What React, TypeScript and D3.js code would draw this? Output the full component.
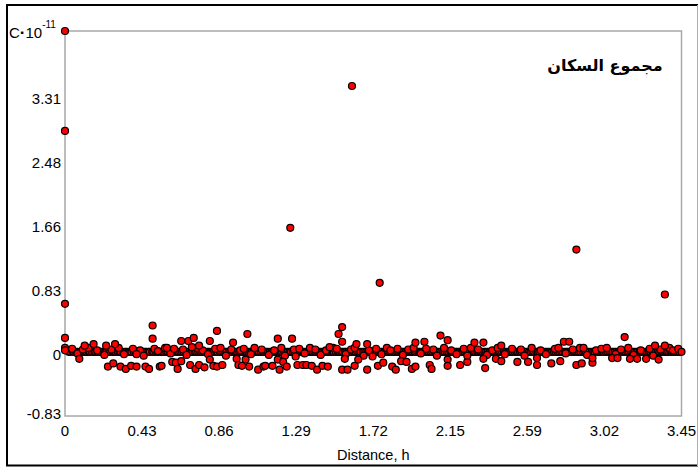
import React from "react";
import * as d3 from "d3";

const xTickValues = [0, 0.431, 0.862, 1.293, 1.724, 2.155, 2.586, 3.017, 3.448];
const xTickLabels = ["0", "0.43", "0.86", "1.29", "1.72", "2.15", "2.59", "3.02", "3.45"];
const yTickValues = [-0.828, 0, 0.828, 1.656, 2.484, 3.312];
const yTickLabels = ["-0.83", "0", "0.83", "1.66", "2.48", "3.31"];

// dense band of points lying on zero
const bandX = [0.02,0.03,0.045,0.05,0.062,0.07,0.085,0.09,0.102,0.115,0.12,0.133,0.14,0.152,0.165,0.17,0.182,0.195,0.2,0.214,0.225,0.232,0.245,0.252,0.266,0.275,0.283,0.296,0.305,0.312,0.324,0.335,0.343,0.356,0.364,0.372,0.385,0.396,0.403,0.415,0.426,0.434,0.447,0.455,0.466,0.474,0.488,0.495,0.507,0.516,0.523,0.536,0.545,0.553,0.566,0.574,0.585,0.596,0.604,0.613,0.627,0.634,0.645,0.655,0.664,0.676,0.683,0.695,0.706,0.713,0.726,0.734,0.745,0.756,0.763,0.775,0.784,0.796,0.803,0.815,0.826,0.834,0.846,0.853,0.866,0.874,0.885,0.896,0.903,0.916,0.925,0.934,0.946,0.955,0.963,0.975,0.986,0.994,1.006,1.014,1.025,1.036,1.044,1.055,1.064,1.076,1.084,1.095,1.106,1.113,1.125,1.134,1.146,1.155,1.163,1.176,1.184,1.195,1.205,1.214,1.226,1.233,1.245,1.256,1.264,1.275,1.284,1.296,1.305,1.313,1.326,1.334,1.345,1.354,1.366,1.374,1.385,1.395,1.404,1.415,1.424,1.436,1.445,1.453,1.466,1.474,1.485,1.496,1.503,1.515,1.526,1.534,1.545,1.554,1.566,1.573,1.585,1.596,1.604,1.615,1.624,1.635,1.645,1.653,1.666,1.674,1.685,1.695,1.704,1.716,1.724,1.735,1.744,1.756,1.765,1.773,1.786,1.794,1.805,1.815,1.824,1.835,1.844,1.856,1.864,1.875,1.885,1.893,1.906,1.914,1.925,1.936,1.944,1.955,1.964,1.976,1.984,1.995,2.005,2.014,2.026,2.034,2.045,2.054,2.066,2.074,2.085,2.094,2.105,2.116,2.124,2.135,2.144,2.156,2.165,2.173,2.186,2.194,2.205,2.215,2.224,2.235,2.244,2.256,2.264,2.275,2.285,2.294,2.306,2.314,2.325,2.334,2.346,2.355,2.364,2.375,2.384,2.396,2.405,2.413,2.426,2.434,2.445,2.455,2.464,2.476,2.484,2.495,2.504,2.516,2.525,2.534,2.545,2.554,2.566,2.574,2.585,2.596,2.604,2.615,2.624,2.636,2.645,2.653,2.665,2.674,2.686,2.694,2.705,2.716,2.724,2.735,2.744,2.755,2.764,2.776,2.784,2.795,2.806,2.814,2.825,2.834,2.846,2.855,2.864,2.875,2.884,2.896,2.905,2.914,2.925,2.934,2.946,2.955,2.963,2.976,2.984,2.995,3.005,3.014,3.026,3.034,3.045,3.055,3.064,3.075,3.084,3.096,3.104,3.115,3.126,3.134,3.145,3.154,3.165,3.174,3.184,3.196,3.204,3.215,3.224,3.236,3.245,3.254,3.265,3.274,3.285,3.296,3.304,3.315,3.324,3.335,3.344,3.356,3.365,3.374,3.386,3.394,3.405,3.414,3.425,3.436];

// points sitting just on / beside the band
const nearPoints: [number, number][] = [
  [0.0,0.05],[0.04,0.04],[0.07,-0.02],[0.1,0.03],[0.13,0.05],[0.18,0.02],[0.22,-0.04],[0.26,0.03],[0.3,0.05],[0.33,-0.03],
  [0.38,0.04],[0.42,0.02],[0.44,-0.05],[0.5,0.04],[0.52,0.01],[0.56,0.05],[0.59,-0.02],[0.61,0.04],[0.66,0.03],[0.68,-0.04],
  [0.74,0.05],[0.77,0.02],[0.8,-0.03],[0.84,0.04],[0.87,0.05],[0.9,-0.05],[0.93,0.03],[0.98,0.02],[1.0,0.04],[1.04,-0.03],
  [1.06,0.05],[1.1,0.03],[1.14,-0.04],[1.17,0.02],[1.21,0.05],[1.23,-0.05],[1.28,0.03],[1.31,0.04],[1.34,-0.02],[1.37,0.05],
  [1.4,0.03],[1.43,-0.04],[1.46,0.02],[1.5,0.05],[1.52,0.04],[1.57,-0.03],[1.6,0.03],[1.62,0.05],[1.67,-0.05],[1.7,0.02],
  [1.74,0.04],[1.77,-0.03],[1.8,0.05],[1.82,0.02],[1.86,0.04],[1.89,-0.04],[1.92,0.03],[1.95,0.05],[1.99,-0.02],[2.02,0.04],
  [2.06,0.03],[2.08,-0.05],[2.12,0.05],[2.16,0.02],[2.19,-0.03],[2.23,0.04],[2.27,0.05],[2.31,0.03],[2.36,-0.04],[2.39,0.02],
  [2.42,0.05],[2.46,-0.03],[2.5,0.04],[2.55,0.03],[2.57,-0.05],[2.61,0.05],[2.66,0.02],[2.69,-0.03],[2.74,0.04],[2.76,0.05],
  [2.8,-0.02],[2.84,0.03],[2.88,0.05],[2.92,-0.04],[2.97,0.02],[3.0,0.04],[3.03,0.05],[3.08,-0.03],[3.11,0.03],[3.15,0.05],
  [3.18,-0.04],[3.22,0.02],[3.27,0.04],[3.29,-0.05],[3.33,0.03],[3.38,0.05],[3.4,0.02],[3.43,0.04]
];

// points clearly off the band
const outlierPoints: [number, number][] = [
  [0,4.14],[0,2.85],[0,0.62],[0,0.18],[0,0.02],
  [0.08,-0.09],[0.11,0.08],[0.16,0.1],[0.23,0.08],[0.28,0.1],[0.24,-0.19],[0.27,-0.15],[0.31,-0.19],[0.34,-0.22],[0.37,-0.18],
  [0.4,-0.19],[0.4,-0.03],[0.45,-0.19],[0.47,-0.22],[0.49,0.17],[0.49,0.34],[0.53,-0.19],[0.54,-0.18],[0.57,0.05],[0.6,-0.13],
  [0.62,-0.14],[0.63,-0.22],[0.65,0.14],[0.65,-0.12],[0.69,0.14],[0.71,0.06],[0.72,0.18],[0.7,-0.17],[0.73,-0.22],[0.75,0.08],
  [0.75,-0.17],[0.78,-0.2],[0.81,0.14],[0.81,-0.1],[0.83,-0.18],[0.85,0.27],[0.85,-0.19],[0.88,-0.17],[0.94,0.12],[0.96,-0.09],
  [0.97,-0.17],[0.99,-0.18],[1.01,-0.1],[1.02,0.23],[1.03,-0.19],[1.08,-0.23],[1.11,-0.19],[1.12,-0.18],[1.16,-0.18],[1.19,-0.1],
  [1.19,0.17],[1.2,-0.23],[1.22,-0.13],[1.24,-0.19],[1.26,1.6],[1.27,0.17],[1.29,-0.06],[1.3,-0.17],[1.33,-0.17],[1.35,-0.17],
  [1.38,-0.18],[1.41,-0.23],[1.44,-0.18],[1.47,-0.19],[1.48,0.06],[1.53,0.23],[1.55,0.32],[1.55,0.13],[1.55,-0.23],[1.565,-0.09],
  [1.58,-0.23],[1.605,3.43],[1.62,-0.18],[1.63,0.1],[1.64,-0.1],[1.69,0.1],[1.69,-0.23],[1.72,-0.06],[1.75,-0.18],[1.76,0.89],
  [1.78,-0.14],[1.83,-0.19],[1.85,-0.23],[1.88,-0.12],[1.91,-0.13],[1.94,-0.22],[1.96,0.12],[1.96,-0.19],[2.01,0.13],[2.04,-0.17],
  [2.05,-0.22],[2.1,0.21],[2.14,0.15],[2.14,-0.1],[2.14,-0.18],[2.21,-0.17],[2.25,-0.13],[2.25,-0.05],[2.29,0.12],[2.34,0.12],
  [2.34,-0.09],[2.35,-0.21],[2.41,-0.09],[2.44,-0.12],[2.44,0.08],[2.53,-0.13],[2.59,-0.13],[2.64,-0.17],[2.64,-0.08],[2.72,-0.15],
  [2.77,-0.12],[2.79,0.13],[2.82,0.13],[2.86,1.32],[2.86,-0.17],[2.89,-0.15],[2.9,0.05],[2.95,-0.14],[2.95,-0.08],[3.06,-0.08],
  [3.09,-0.08],[3.13,0.19],[3.16,-0.09],[3.2,-0.09],[3.25,-0.09],[3.3,0.08],[3.32,-0.1],[3.355,0.74],[3.355,0.08],[3.448,0.0]
];

const titleText = "مجموع السكان";
const xAxisTitle = "Distance, h";

const W = 699;
const H = 467;
const left = 65;
const right = 681.5;
const top = 31;
const bottom = 416;
const FONT = "Arial, 'Liberation Sans', 'DejaVu Sans', sans-serif";

export default function App() {
  const x = d3.scaleLinear().domain([0, 3.448]).range([left, right]);
  const y = d3.scaleLinear().domain([-0.828, 4.14]).range([bottom, top]);

  const allPoints: [number, number][] = [
    ...bandX.map((v) => [v, 0] as [number, number]),
    ...nearPoints,
    ...outlierPoints,
  ];

  return (
    <svg
      width={W}
      height={H}
      style={{ position: "absolute", left: 0, top: 0, background: "#fff" }}
      fontFamily={FONT}
    >
      <rect x={0} y={0} width={W} height={H} fill="#fff" />
      {/* outer frame */}
      <line x1={7} y1={4} x2={7} y2={466} stroke="#000" strokeWidth={2} />
      <line x1={6} y1={5} x2={698} y2={5} stroke="#000" strokeWidth={2} />
      <line x1={6} y1={465.5} x2={698} y2={465.5} stroke="#000" strokeWidth={2} />
      <line x1={697.5} y1={5} x2={697.5} y2={466} stroke="#b0b0b0" strokeWidth={1} />

      {/* plot frame */}
      <rect
        x={left}
        y={top}
        width={right - left}
        height={bottom - top}
        fill="none"
        stroke="#a8a8a8"
        strokeWidth={1.5}
      />

      {/* y tick labels */}
      {yTickValues.map((v, i) => (
        <text
          key={"yt" + i}
          x={61}
          y={i === 0 ? y(v) + 3 : y(v) + 8.5}
          textAnchor="end"
          fontSize={15}
          fill="#000"
        >
          {yTickLabels[i]}
        </text>
      ))}
      <text x={9} y={38} fontSize={15} fill="#000">
        C
        <tspan fontWeight="bold" fontSize={17}>·</tspan>
        10
        <tspan dy={-10} fontSize={10}>-11</tspan>
      </text>

      {/* x tick labels */}
      {xTickValues.map((v, i) => (
        <text
          key={"xt" + i}
          x={x(v)}
          y={436}
          textAnchor="middle"
          fontSize={15}
          fill="#000"
        >
          {xTickLabels[i]}
        </text>
      ))}
      <text x={(left + right) / 2} y={460} textAnchor="middle" fontSize={14.5} fill="#000">
        {xAxisTitle}
      </text>

      {/* title */}
      <text
        x={605}
        y={71}
        textAnchor="middle"
        fontSize={16}
        fontWeight="bold"
        fill="#000"
        fontFamily="'DejaVu Sans', 'Noto Sans', Arial, sans-serif"
      >
        {titleText}
      </text>

      {/* points */}
      <g>
        {allPoints.map((p, i) => (
          <circle
            key={"p" + i}
            cx={x(p[0])}
            cy={y(p[1])}
            r={3.5}
            fill="#ff0000"
            stroke="#000"
            strokeWidth={1.2}
          />
        ))}
      </g>
    </svg>
  );
}
